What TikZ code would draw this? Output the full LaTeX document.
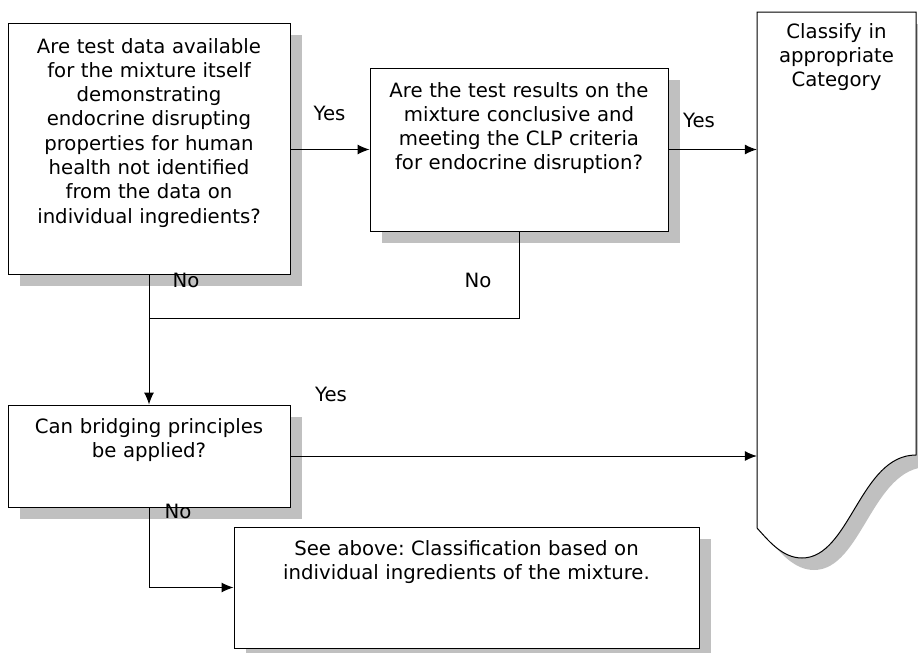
\documentclass[tikz,border=0pt]{standalone}
\usepackage{fontspec}
\setmainfont{DejaVu Sans}
\usetikzlibrary{arrows.meta, shadows}
\definecolor{shadowgray}{RGB}{192,192,192}
\frenchspacing

\begin{document}
\begin{tikzpicture}[x=1pt, y=-1pt,
			box/.style={
				rectangle,
				draw,
				fill=white,
				line width=1pt,
				inner sep=0pt,
				align=center,
				font=\fontsize{19.7}{24.3}\selectfont,
				drop shadow={shadow xshift=12pt, shadow yshift=-12pt, fill=shadowgray, opacity=1}
			},
			lbl/.style={
				inner sep=0pt,
				font=\fontsize{19.7}{24.3}\selectfont
			},
			arrow/.style={
				-{Latex[length=12pt,width=10pt]},
				line width=1pt
			}
			]
			
			\useasboundingbox (0,0) rectangle (918,653);
			
			% classification document shape
			\fill [shadowgray, shift={(12,12)}] (757,12) -- (916,12) -- (916,455)
				.. controls (860,455) and (850,558) .. (802,558)
				.. controls (782,558) and (768,540) .. (757,528) -- cycle;
			\draw [fill=white, line width=1pt] (757,12) -- (916,12) -- (916,455)
				.. controls (860,455) and (850,558) .. (802,558)
				.. controls (782,558) and (768,540) .. (757,528) -- cycle;
			\node (cls) [lbl, align=center, text width=159pt, text height=26pt, text depth=490pt] at (836.5,270) {Classify in\\appropriate\\Category};
			
			\node (test) [box, text width=282pt, text height=30pt, text depth=221pt] at (149,148.5) {Are test data available\\for the mixture itself\\demonstrating\\endocrine disrupting\\properties for human\\health not identified\\from the data on\\individual ingredients?};
			\node (result) [box, text width=298pt, text height=29pt, text depth=134pt] at (519,149.5) {Are the test results on the\\mixture conclusive and\\meeting the CLP criteria\\for endocrine disruption?};
			\node (bridge) [box, text width=282pt, text height=28pt, text depth=74pt] at (149,456) {Can bridging principles\\be applied?};
			\node (above) [box, text width=465pt, text height=28pt, text depth=93pt] at (466.5,587.5) {See above: Classification based on\\individual ingredients of the mixture.};
			
			\coordinate (merge) at (149,318);
			
			\draw [arrow] (result.west -| test.east) -- (result.west);
			\draw [arrow] (result.east) -- (result.east -| cls.west);
			\draw [arrow] (test.south) -- (bridge.north);
			\draw [line width=1pt] (result.south) |- (merge);
			\draw [arrow] (bridge.east) -- (bridge.east -| cls.west);
			\draw [arrow] (bridge.south) |- (above.west);
			
			\node (yes1) [lbl] at (329.5,113) {Yes};
			\node (yes2) [lbl] at (699,120) {Yes};
			\node (yes3) [lbl] at (331,394) {Yes};
			\node (no1) [lbl] at (186,280) {No};
			\node (no2) [lbl] at (478,280) {No};
			\node (no3) [lbl] at (178,511) {No};
			
		\end{tikzpicture}
\end{document}
